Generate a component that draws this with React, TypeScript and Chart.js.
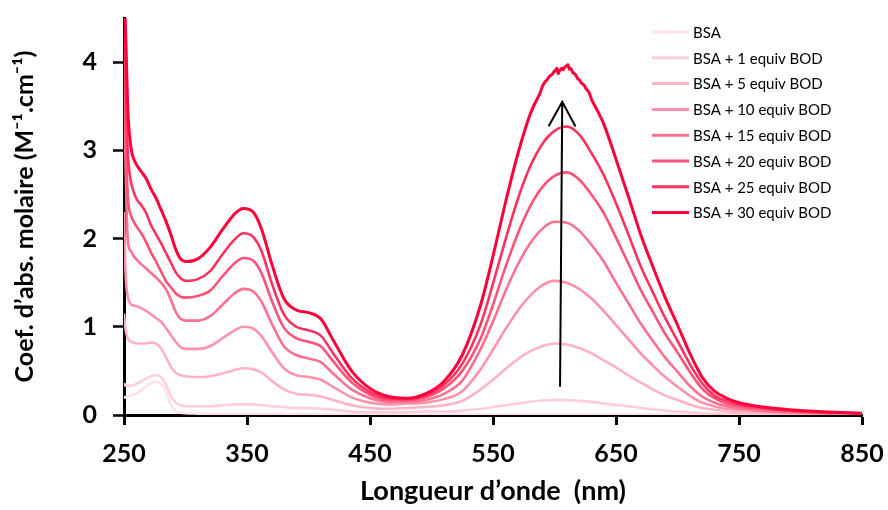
import React, { useEffect, useRef } from 'react';
import { Chart, registerables } from 'chart.js';

Chart.register(...registerables);

// ---- data -------------------------------------------------------------
const WAVELENGTHS = [
  250, 251, 252, 253, 254, 256, 258, 261, 264, 268, 272, 276, 280, 284, 288,
  292, 296, 300, 310, 320, 330, 340, 347, 355, 362, 370, 380, 390, 400, 410,
  420, 435, 450, 465, 480, 495, 510, 525, 540, 550, 560, 570, 580, 590, 600,
  610, 620, 630, 640, 650, 660, 670, 680, 690, 700, 710, 720, 730, 740, 750,
  770, 800, 850,
];

const BSA = [
  0.20, 0.20, 0.21, 0.21, 0.21, 0.22, 0.23, 0.25, 0.28, 0.32, 0.36, 0.38, 0.36, 0.27, 0.12,
  0.04, 0.025, 0.02, 0.015, 0.01, 0.01, 0.01, 0.01, 0.01, 0.01, 0.01, 0.01, 0.01, 0.01, 0.01,
  0.01, 0.008, 0.006, 0.005, 0.005, 0.005, 0.005, 0.005, 0.005, 0.005, 0.005, 0.005, 0.005, 0.005, 0.005,
  0.005, 0.005, 0.005, 0.005, 0.005, 0.005, 0.005, 0.005, 0.005, 0.005, 0.004, 0.004, 0.004, 0.004, 0.004,
  0.003, 0.003, 0.002,
];
const BOD_1 = [
  0.36, 0.34, 0.33, 0.33, 0.33, 0.33, 0.34, 0.36, 0.38, 0.41, 0.44, 0.45, 0.43, 0.35, 0.22,
  0.14, 0.11, 0.10, 0.10, 0.10, 0.11, 0.12, 0.12, 0.12, 0.11, 0.10, 0.09, 0.08, 0.08, 0.07,
  0.06, 0.04, 0.03, 0.03, 0.03, 0.04, 0.04, 0.05, 0.07, 0.09, 0.11, 0.13, 0.15, 0.165, 0.17,
  0.17, 0.16, 0.15, 0.13, 0.115, 0.10, 0.08, 0.065, 0.05, 0.04, 0.03, 0.02, 0.015, 0.01, 0.01,
  0.008, 0.005, 0.004,
];
const BOD_5 = [
  1.15, 1.0, 0.92, 0.87, 0.85, 0.83, 0.82, 0.81, 0.81, 0.81, 0.82, 0.81, 0.76, 0.66, 0.55,
  0.48, 0.45, 0.44, 0.43, 0.44, 0.47, 0.51, 0.53, 0.52, 0.48, 0.39, 0.29, 0.24, 0.23, 0.21,
  0.17, 0.11, 0.08, 0.07, 0.08, 0.09, 0.11, 0.16, 0.29, 0.40, 0.52, 0.63, 0.72, 0.78, 0.81,
  0.80, 0.76, 0.70, 0.62, 0.54, 0.45, 0.37, 0.29, 0.22, 0.17, 0.12, 0.08, 0.06, 0.04, 0.03,
  0.02, 0.01, 0.005,
];
const BOD_10 = [
  2.3, 1.7, 1.45, 1.35, 1.29, 1.25, 1.24, 1.23, 1.21, 1.18, 1.14, 1.10, 1.06, 0.99, 0.91,
  0.83, 0.77, 0.75, 0.75, 0.78, 0.87, 0.96, 1.00, 0.98, 0.89, 0.72, 0.53, 0.45, 0.43, 0.40,
  0.32, 0.20, 0.14, 0.12, 0.13, 0.14, 0.18, 0.27, 0.52, 0.74, 0.97, 1.18, 1.35, 1.47, 1.52,
  1.50, 1.43, 1.32, 1.18, 1.02, 0.86, 0.70, 0.56, 0.43, 0.32, 0.22, 0.14, 0.10, 0.07, 0.06,
  0.04, 0.02, 0.01,
];
const BOD_15 = [
  3.8, 3.0, 2.4, 2.0, 1.9, 1.85, 1.80, 1.75, 1.71, 1.66, 1.61, 1.56, 1.50, 1.43, 1.31,
  1.17, 1.09, 1.07, 1.07, 1.12, 1.25, 1.38, 1.43, 1.40, 1.28, 1.04, 0.78, 0.68, 0.64, 0.60,
  0.47, 0.29, 0.19, 0.15, 0.15, 0.17, 0.24, 0.39, 0.75, 1.06, 1.40, 1.70, 1.94, 2.11, 2.19,
  2.18, 2.09, 1.93, 1.74, 1.50, 1.27, 1.04, 0.84, 0.65, 0.49, 0.33, 0.21, 0.14, 0.10, 0.08,
  0.05, 0.03, 0.01,
];
const BOD_20 = [
  4.2, 3.5, 2.9, 2.5, 2.35, 2.25, 2.19, 2.12, 2.06, 1.96, 1.84, 1.74, 1.63, 1.52, 1.45,
  1.38, 1.34, 1.33, 1.35, 1.41, 1.57, 1.72, 1.78, 1.75, 1.60, 1.30, 0.99, 0.87, 0.83, 0.78,
  0.61, 0.37, 0.23, 0.17, 0.17, 0.20, 0.30, 0.50, 0.87, 1.25, 1.67, 2.05, 2.36, 2.58, 2.71,
  2.75, 2.67, 2.50, 2.29, 2.01, 1.72, 1.42, 1.17, 0.92, 0.71, 0.49, 0.30, 0.19, 0.13, 0.10,
  0.07, 0.04, 0.02,
];
const BOD_25 = [
  4.7, 4.0, 3.4, 3.0, 2.8, 2.62, 2.52, 2.43, 2.38, 2.29, 2.15, 2.05, 1.95, 1.84, 1.73,
  1.62, 1.55, 1.52, 1.54, 1.63, 1.82, 1.99, 2.06, 2.02, 1.85, 1.50, 1.14, 1.00, 0.96, 0.90,
  0.70, 0.42, 0.26, 0.19, 0.18, 0.22, 0.34, 0.58, 1.03, 1.49, 1.98, 2.44, 2.81, 3.07, 3.22,
  3.27, 3.18, 2.97, 2.72, 2.40, 2.05, 1.69, 1.39, 1.10, 0.84, 0.58, 0.36, 0.22, 0.16, 0.12,
  0.08, 0.04, 0.02,
];
const BOD_30 = [
  5.0, 4.5, 4.0, 3.5, 3.25, 3.0, 2.9, 2.82, 2.76, 2.68, 2.56, 2.46, 2.33, 2.20, 2.05,
  1.88, 1.77, 1.74, 1.77, 1.90, 2.10, 2.28, 2.34, 2.30, 2.10, 1.72, 1.32, 1.19, 1.16, 1.09,
  0.85, 0.50, 0.30, 0.21, 0.19, 0.24, 0.38, 0.68, 1.25, 1.80, 2.40, 2.95, 3.40, 3.72, 3.90,
  3.96, 3.80, 3.58, 3.30, 2.90, 2.48, 2.05, 1.68, 1.33, 1.02, 0.70, 0.43, 0.27, 0.19, 0.14,
  0.09, 0.05, 0.02,
];
// extra (noisy) readings around the visible maximum of the 30 equiv spectrum
const BOD_30_PEAK_NM = [584, 588, 592, 594, 596, 598, 601, 602, 603, 604, 606, 607, 608, 609, 611, 612, 613, 615, 617, 619, 622, 624, 626, 628, 633];
const BOD_30_PEAK_VAL = [3.53, 3.64, 3.77, 3.80, 3.84, 3.86, 3.91, 3.93, 3.87, 3.90, 3.93, 3.91, 3.94, 3.95, 3.97, 3.92, 3.93, 3.88, 3.86, 3.81, 3.76, 3.74, 3.69, 3.66, 3.50];

const SERIES_LABELS = [
  'BSA',
  'BSA + 1 equiv BOD',
  'BSA + 5 equiv BOD',
  'BSA + 10 equiv BOD',
  'BSA + 15 equiv BOD',
  'BSA + 20 equiv BOD',
  'BSA + 25 equiv BOD',
  'BSA + 30 equiv BOD',
];
const SERIES_VALUES = [BSA, BOD_1, BOD_5, BOD_10, BOD_15, BOD_20, BOD_25, BOD_30];
const SERIES_COLORS = [
  'rgb(255,226,233)',
  'rgb(255,206,218)',
  'rgb(255,180,198)',
  'rgb(255,146,171)',
  'rgb(255,112,144)',
  'rgb(255,82,121)',
  'rgb(255,50,95)',
  'rgb(255,0,58)',
];

const X_TICKS = [250, 350, 450, 550, 650, 750, 850];
const Y_TICKS = [0, 1, 2, 3, 4];

// arrow annotation (data units)
const ARROW_NM = [604.5, 606.3];
const ARROW_VAL = [0.32, 3.55];

const FONT = "Lato, 'Liberation Sans', Arial, sans-serif";

// ---- plugins ----------------------------------------------------------
const insetLegend = {
  id: 'insetLegend',
  afterDraw(chart: any, _args: any, opts: any) {
    const ctx = chart.ctx;
    ctx.save();
    chart.data.datasets.forEach((ds: any, i: number) => {
      const y = opts.top + i * opts.rowHeight;
      ctx.strokeStyle = ds.borderColor;
      ctx.lineWidth = 3;
      ctx.beginPath();
      ctx.moveTo(opts.left, y);
      ctx.lineTo(opts.left + opts.lineLength, y);
      ctx.stroke();
      ctx.fillStyle = '#000';
      ctx.font = `15px ${FONT}`;
      ctx.textBaseline = 'middle';
      ctx.textAlign = 'left';
      ctx.fillText(ds.label, opts.left + opts.lineLength + 4, y + 1);
    });
    ctx.restore();
  },
};

const arrowPlugin = {
  id: 'arrowAnnot',
  afterDatasetsDraw(chart: any) {
    const { ctx, scales } = chart;
    const x0 = scales.x.getPixelForValue(ARROW_NM[0]);
    const y0 = scales.y.getPixelForValue(ARROW_VAL[0]);
    const x1 = scales.x.getPixelForValue(ARROW_NM[1]);
    const y1 = scales.y.getPixelForValue(ARROW_VAL[1]);
    const ang = Math.atan2(y1 - y0, x1 - x0);
    const len = 28;
    const spread = 0.5;
    ctx.save();
    ctx.strokeStyle = '#000';
    ctx.lineWidth = 2;
    ctx.beginPath();
    ctx.moveTo(x0, y0);
    ctx.lineTo(x1, y1);
    ctx.moveTo(x1 - len * Math.cos(ang - spread), y1 - len * Math.sin(ang - spread));
    ctx.lineTo(x1, y1);
    ctx.lineTo(x1 - len * Math.cos(ang + spread), y1 - len * Math.sin(ang + spread));
    ctx.stroke();
    ctx.restore();
  },
};

function buildPoints(i: number) {
  const pts = WAVELENGTHS.map((x, k) => ({ x, y: SERIES_VALUES[i][k] }));
  if (i === SERIES_VALUES.length - 1) {
    BOD_30_PEAK_NM.forEach((x, k) => pts.push({ x, y: BOD_30_PEAK_VAL[k] }));
    pts.sort((a, b) => a.x - b.x);
  }
  return pts;
}

function clearScalePadding(s: any) {
  s.paddingTop = 0;
  s.paddingBottom = 0;
  s.paddingLeft = 0;
  s.paddingRight = 0;
}

export default function App() {
  const ref = useRef<HTMLCanvasElement>(null);

  useEffect(() => {
    if (!ref.current) return;
    const n = SERIES_LABELS.length;
    const chart = new Chart(ref.current, {
      type: 'line',
      data: {
        datasets: SERIES_LABELS.map((label, i) => ({
          label,
          data: buildPoints(i),
          borderColor: SERIES_COLORS[i],
          backgroundColor: SERIES_COLORS[i],
          borderWidth: i === n - 1 ? 3 : 2.6,
          pointRadius: 0,
          fill: false,
          cubicInterpolationMode: 'monotone',
          order: n - 1 - i,
        })),
      },
      options: {
        responsive: false,
        animation: false,
        devicePixelRatio: 1,
        events: [],
        layout: { padding: { left: 0, right: 26, top: 18, bottom: 0 } },
        plugins: {
          legend: { display: false },
          tooltip: { enabled: false },
          insetLegend: { left: 652, lineLength: 37, top: 32, rowHeight: 25.8 },
        } as any,
        scales: {
          x: {
            type: 'linear',
            min: 250,
            max: 850,
            afterBuildTicks: (s: any) => {
              s.ticks = X_TICKS.map((v) => ({ value: v }));
            },
            afterFit: (s: any) => {
              s.height = 95;
              clearScalePadding(s);
            },
            border: { display: true, color: '#000', width: 3 },
            grid: {
              display: true,
              drawOnChartArea: false,
              drawTicks: true,
              tickLength: 10,
              tickWidth: 3,
              tickColor: '#000',
            },
            ticks: {
              color: '#000',
              padding: 14,
              maxRotation: 0,
              font: { family: FONT, size: 25, weight: 'bold' },
            },
            title: {
              display: true,
              text: 'Longueur d\u2019onde  (nm)',
              color: '#000',
              font: { family: FONT, size: 27, weight: 'bold' },
              padding: { top: 0, bottom: 3 },
            },
          },
          y: {
            type: 'linear',
            min: 0,
            max: 4.5,
            afterBuildTicks: (s: any) => {
              s.ticks = Y_TICKS.map((v) => ({ value: v }));
            },
            afterFit: (s: any) => {
              s.width = 124;
              clearScalePadding(s);
            },
            border: { display: true, color: '#000', width: 3 },
            grid: {
              display: true,
              drawOnChartArea: false,
              drawTicks: true,
              tickLength: 11,
              tickWidth: 2.5,
              tickColor: '#000',
            },
            ticks: {
              color: '#000',
              padding: 16,
              font: { family: FONT, size: 25, weight: 'bold' },
            },
            title: {
              display: true,
              text: 'Coef. d\u2019abs. molaire (M\u207B\u00B9.cm\u207B\u00B9)',
              color: '#000',
              font: { family: FONT, size: 25, weight: 'bold' },
              padding: { top: 10, bottom: 0 },
            },
          },
        },
      } as any,
      plugins: [insetLegend, arrowPlugin],
    });
    return () => chart.destroy();
  }, []);

  return (
    <div style={{ position: 'fixed', left: 0, top: 0, width: 888, height: 510, background: '#fff' }}>
      <canvas ref={ref} width={888} height={510} />
    </div>
  );
}
